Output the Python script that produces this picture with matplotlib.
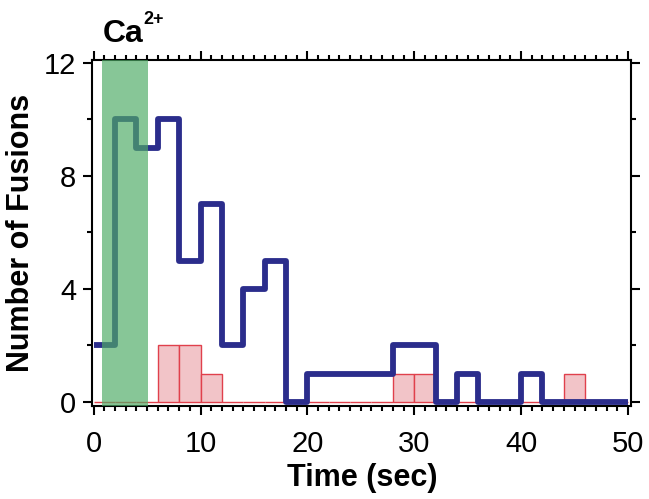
import matplotlib.pyplot as plt
import numpy as np

plt.rcParams['font.family'] = ['Liberation Sans', 'DejaVu Sans']

# bin edges (sec), 2 s bins
bin_edges = list(range(0, 52, 2))
# fusions with Ca2+ (blue trace)
ca_counts = [2, 10, 9, 10, 5, 7, 2, 4, 5, 0, 1, 1, 1, 1, 2, 2, 0, 1, 0, 0, 1, 0, 0, 0, 0]
# control fusions (pink bars)
ctrl_counts = [0, 0, 0, 2, 2, 1, 0, 0, 0, 0, 0, 0, 0, 0, 1, 1, 0, 0, 0, 0, 0, 0, 1, 0, 0]
# Ca2+ injection window
ca_window = (0.8, 5.1)

fig = plt.figure(figsize=(6.49, 4.99), dpi=100)
ax = fig.add_axes([0.142, 0.1864, 0.831, 0.6934])

edges = np.array(bin_edges)
ax.bar(edges[:-1], ctrl_counts, width=2, align='edge', color='#f2c4c8',
       edgecolor='#e0404c', linewidth=1.0, zorder=2)

y_step = ca_counts + [ca_counts[-1]]
ax.plot(edges, y_step, drawstyle='steps-post', color='#2b2d8c', linewidth=4.2,
        solid_joinstyle='round', solid_capstyle='butt', zorder=3)

ax.axvspan(ca_window[0], ca_window[1], color='#4fab66', alpha=0.68,
           linewidth=0, zorder=4)

ax.set_xlim(-0.14, 50.33)
ax.set_ylim(-0.15, 12.1)

ax.set_xticks(range(0, 51, 10))
ax.set_xticks(range(0, 51, 1), minor=True)
ax.set_yticks([0, 4, 8, 12])
ax.set_yticks([2, 6, 10], minor=True)

for s in ax.spines.values():
    s.set_linewidth(1.5)

ax.tick_params(which='both', direction='out', top=True, right=True, width=1.5)
ax.tick_params(which='major', length=6.5)
ax.tick_params(which='minor', length=3.5)
ax.tick_params(axis='x', pad=11)
ax.tick_params(axis='y', pad=5)
for lab in ax.get_xticklabels() + ax.get_yticklabels():
    lab.set_fontsize(21)

ax.set_xlabel('Time (sec)', fontsize=22, fontweight='bold')
ax.set_ylabel('Number of Fusions', fontsize=22, fontweight='bold')
ax.xaxis.set_label_coords(0.5, -0.165)
ax.yaxis.set_label_coords(-0.105, 0.5)

fig.text(0.1587, 0.9158, 'Ca', fontsize=23, fontweight='bold',
         ha='left', va='baseline')
fig.text(0.2215, 0.952, '2+', fontsize=13, fontweight='bold',
         ha='left', va='baseline')

fig.savefig('out.png', dpi=100)
